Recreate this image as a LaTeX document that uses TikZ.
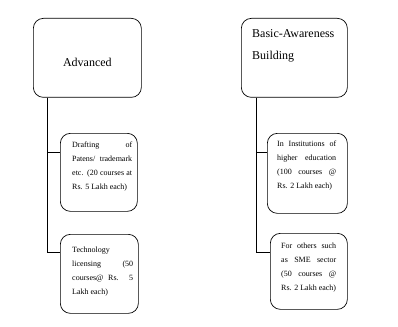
\documentclass[tikz,border=0pt]{standalone}
\usepackage{fontspec}
\setmainfont{Liberation Serif}
\newcommand{\J}[2]{\makebox[#1][s]{#2}}
\begin{document}
\begin{tikzpicture}[x=1pt,y=-1pt,
  box/.style={draw, line width=0.7pt, rounded corners=10pt, inner sep=0pt, anchor=north west},
  small/.style={font=\fontsize{8}{14}\selectfont, anchor=north west, inner sep=0pt, align=left},
  big/.style={font=\fontsize{12}{22}\selectfont, inner sep=0pt, align=left},
  conn/.style={line width=0.7pt}]
\useasboundingbox (0,0) rectangle (398,326);
% parent boxes
\node[box, minimum width=108pt, minimum height=79pt] (adv) at (33,18) {};
\node[box, minimum width=106pt, minimum height=79pt] (bas) at (241,18) {};
\node[big] (advt) at ([yshift=-5pt]adv.center) {Advanced};
\node[big, anchor=north west] (bast) at (252,29.5) {Basic-Awareness\\Building};
% child boxes
\node[box, minimum width=77pt, minimum height=78pt] (l1) at (60,133) {};
\node[box, minimum width=78pt, minimum height=79pt] (l2) at (60,234) {};
\node[box, minimum width=80pt, minimum height=80pt] (r1) at (267,133) {};
\node[box, minimum width=77pt, minimum height=76pt] (r2) at (270,233) {};
% child texts
\node[small] (l1t) at (72,141.5) {\J{60pt}{Drafting of}\\\J{60pt}{Patens/ trademark}\\\J{60pt}{etc. (20 courses at}\\Rs. 5 Lakh each)};
\node[small] (l2t) at (72,246.5) {Technology\\\J{61pt}{licensing (50}\\\J{61pt}{courses@ Rs. 5}\\Lakh each)};
\node[small] (r1t) at (277,140.5) {\J{59pt}{In Institutions of}\\\J{59pt}{higher education}\\\J{59pt}{(100 courses @}\\Rs. 2 Lakh each)};
\node[small] (r2t) at (281,242.5) {\J{55pt}{For others such}\\\J{55pt}{as SME sector}\\\J{55pt}{(50 courses @}\\Rs. 2 Lakh each)};
% connectors
\draw[conn] ([xshift=14pt]adv.south west) |- ([yshift=-19pt]l1.north west);
\draw[conn] ([xshift=14pt]adv.south west) |- ([yshift=-18pt]l2.north west);
\draw[conn] ([xshift=15pt]bas.south west) |- ([yshift=-19pt]r1.north west);
\draw[conn] ([xshift=15pt]bas.south west) |- ([yshift=-19pt]r2.north west);
\end{tikzpicture}
\end{document}
